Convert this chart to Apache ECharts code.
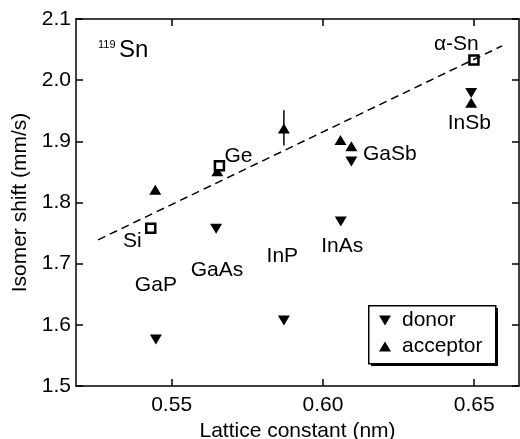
<!DOCTYPE html>
<html>
<head>
<meta charset="utf-8">
<script src="https://cdn.jsdelivr.net/npm/echarts@6/dist/echarts.min.js"></script>
<style>html,body{margin:0;padding:0;background:#fff}#c{width:520px;height:439px}</style>
</head>
<body>
<div id="c"></div>
<script>
// Axis ranges and ticks
const xRange = [0.5184, 0.6648];
const yRange = [1.5, 2.1];
const xTicks = [0.55, 0.60, 0.65];

// donor (down triangles): [lattice constant, isomer shift]
const donorX = [0.5448, 0.5647, 0.5871, 0.6059, 0.6094, 0.6490];
const donorY = [1.576, 1.757, 1.607, 1.769, 1.867, 1.979];

// acceptor (up triangles)
const accX = [0.5446, 0.5651, 0.5871, 0.6058, 0.6094, 0.6490];
const accY = [1.821, 1.851, 1.921, 1.902, 1.892, 1.963];

// error bar on acceptor point: [x, low, high]
const errBars = [[0.5871, 1.893, 1.951]];

// elemental (open squares): Si, Ge, alpha-Sn
const elemX = [0.5431, 0.5658, 0.6499];
const elemY = [1.758, 1.860, 2.033];

// dashed trend line endpoints
const fitX = [0.5257, 0.6592];
const fitY = [1.739, 2.056];

// annotation labels
const labelNames = ['α-Sn', 'InSb', 'GaSb', 'Ge', 'Si', 'GaAs', 'GaP', 'InP', 'InAs'];
const labelX = [0.6441, 0.6484, 0.6221, 0.5721, 0.5370, 0.5650, 0.5448, 0.5866, 0.6064];
const labelY = [2.059, 1.930, 1.879, 1.875, 1.736, 1.690, 1.665, 1.712, 1.729];

const FONT = 'Liberation Sans, Arial, Helvetica, sans-serif';
const zip = (a, b) => a.map((v, i) => [v, b[i]]);

const chart = echarts.init(document.getElementById('c'), null, {renderer: 'canvas'});
const axisLineStyle = {color: '#000', width: 1.5};
const txt = {color: '#000', fontSize: 21, fontFamily: FONT};

chart.setOption({
  animation: false,
  backgroundColor: '#fff',
  grid: {left: 76, top: 19, right: 1, bottom: 53, containLabel: false, outerBoundsMode: 'none'},
  xAxis: [
    {
      type: 'value', min: xRange[0], max: xRange[1], position: 'bottom',
      name: 'Lattice constant (nm)', nameLocation: 'middle', nameGap: 34,
      nameTextStyle: txt,
      axisLine: {show: true, lineStyle: axisLineStyle},
      axisTick: {show: true, inside: true, length: 7, customValues: xTicks, lineStyle: axisLineStyle},
      axisLabel: {show: true, margin: 9, customValues: xTicks, formatter: v => v.toFixed(2), ...txt},
      splitLine: {show: false}
    },
    {
      type: 'value', min: xRange[0], max: xRange[1], position: 'top',
      axisLine: {show: true, lineStyle: axisLineStyle},
      axisTick: {show: true, inside: true, length: 7, customValues: xTicks, lineStyle: axisLineStyle},
      axisLabel: {show: false},
      splitLine: {show: false}
    }
  ],
  yAxis: [
    {
      type: 'value', min: yRange[0], max: yRange[1], interval: 0.1, position: 'left',
      name: 'Isomer shift (mm/s)', nameLocation: 'middle', nameGap: 35,
      nameTextStyle: txt,
      axisLine: {show: true, lineStyle: axisLineStyle},
      axisTick: {show: true, inside: true, length: 7, lineStyle: axisLineStyle},
      axisLabel: {show: true, margin: 5, formatter: v => v.toFixed(1), ...txt},
      splitLine: {show: false}
    },
    {
      type: 'value', min: yRange[0], max: yRange[1], interval: 0.1, position: 'right',
      axisLine: {show: true, lineStyle: axisLineStyle},
      axisTick: {show: true, inside: true, length: 7, lineStyle: axisLineStyle},
      axisLabel: {show: false},
      splitLine: {show: false}
    }
  ],
  legend: {
    orient: 'vertical', left: 368, top: 305,
    data: [
      {name: 'donor', icon: 'path://M0,0L12,0L6,10Z'},
      {name: 'acceptor', icon: 'path://M6,0L12,10L0,10Z'}
    ],
    padding: [5, 10, 5, 11], itemGap: 5,
    itemWidth: 12, itemHeight: 10,
    textStyle: {...txt, lineHeight: 21, padding: [0, 0, 0, 6]},
    selectedMode: false
  },
  graphic: [
    {type: 'rect', left: 371, top: 308, z: 1, shape: {width: 127, height: 58}, style: {fill: '#000'}},
    {type: 'rect', left: 368, top: 305, z: 2, shape: {width: 127, height: 58}, style: {fill: '#fff', stroke: '#000', lineWidth: 1.5}},
    {type: 'text', left: 98, top: 39, style: {text: '119', fontSize: 11, fontFamily: FONT, fill: '#000'}},
    {type: 'text', left: 119, top: 38, style: {text: 'Sn', fontSize: 24, fontFamily: FONT, fill: '#000'}}
  ],
  series: [
    {
      type: 'line', data: zip(fitX, fitY), showSymbol: false, silent: true,
      lineStyle: {color: '#000', width: 1.5, type: [8, 5]}
    },
    {
      type: 'custom', data: errBars, silent: true,
      renderItem: (params, api) => {
        const p1 = api.coord([api.value(0), api.value(1)]);
        const p2 = api.coord([api.value(0), api.value(2)]);
        return {type: 'line', shape: {x1: p1[0], y1: p1[1], x2: p2[0], y2: p2[1]}, style: {stroke: '#000', lineWidth: 1.5}};
      }
    },
    {
      name: 'donor', type: 'scatter', data: zip(donorX, donorY),
      symbol: 'triangle', symbolRotate: 180, symbolSize: [12, 10],
      itemStyle: {color: '#000', opacity: 1}
    },
    {
      name: 'acceptor', type: 'scatter', data: zip(accX, accY),
      symbol: 'triangle', symbolSize: [12, 10],
      itemStyle: {color: '#000', opacity: 1}
    },
    {
      name: 'element', type: 'scatter', data: zip(elemX, elemY),
      symbol: 'rect', symbolSize: 9,
      itemStyle: {color: '#fff', borderColor: '#000', borderWidth: 2.5, opacity: 1}
    },
    {
      type: 'scatter', silent: true, symbolSize: 0,
      data: labelNames.map((n, i) => [labelX[i], labelY[i], n]),
      itemStyle: {opacity: 1},
      label: {show: true, position: 'inside', formatter: p => p.data[2], ...txt},
      emphasis: {disabled: true}
    }
  ]
});
</script>
</body>
</html>
